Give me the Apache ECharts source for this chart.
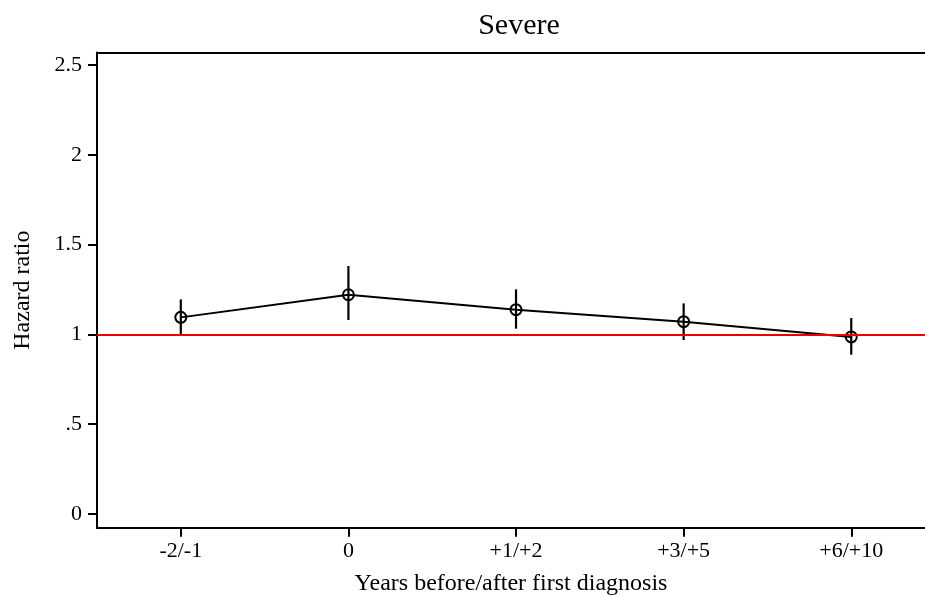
<!DOCTYPE html>
<html>
<head>
<meta charset="utf-8">
<script src="https://cdn.jsdelivr.net/npm/echarts@6/dist/echarts.min.js"></script>
<style>
  html, body { margin: 0; padding: 0; background: #fff; }
  #chart { width: 925px; height: 597px; }
</style>
</head>
<body>
<div id="chart"></div>
<script>
  // periods around first diagnosis
  const categories = ['-2/-1', '0', '+1/+2', '+3/+5', '+6/+10'];
  const hazard = [1.095, 1.221, 1.138, 1.071, 0.986];
  const ciLow = [0.998, 1.080, 1.032, 0.969, 0.887];
  const ciHigh = [1.195, 1.381, 1.251, 1.173, 1.091];
  const yTicks = [0, 0.5, 1, 1.5, 2, 2.5];
  const yTickLabels = ['0', '.5', '1', '1.5', '2', '2.5'];
  const refLine = 1;

  const font = 'Liberation Serif';
  let myChart = echarts.init(document.getElementById('chart'));

  let pointData = hazard.map((v, i) => [i, v]);
  let barData = categories.map((c, i) => [i, ciLow[i], ciHigh[i]]);

  let option = {
    animation: false,
    title: {
      text: 'Severe',
      left: 514,
      top: 6,
      textAlign: 'center',
      textStyle: { fontFamily: font, fontSize: 30, fontWeight: 'normal', color: '#000' }
    },
    grid: { left: 97, right: 0, top: 52.5, bottom: 69.3, outerBoundsMode: 'none' },
    xAxis: [
      {
        type: 'value',
        min: -0.5,
        max: 4.44,
        name: 'Years before/after first diagnosis',
        nameLocation: 'middle',
        nameGap: 44,
        nameTextStyle: { fontFamily: font, fontSize: 24, color: '#000' },
        axisLine: { show: true, onZero: false, lineStyle: { color: '#000', width: 2 } },
        axisTick: { show: true, length: 9, customValues: categories.map((c, i) => i), lineStyle: { color: '#000', width: 2 } },
        axisLabel: {
          customValues: categories.map((c, i) => i),
          formatter: v => categories[Math.round(v)],
          margin: 13,
          fontFamily: font, fontSize: 22, color: '#000'
        },
        splitLine: { show: false }
      },
      {
        type: 'value',
        position: 'top',
        min: -0.5,
        max: 4.44,
        axisLine: { show: true, onZero: false, lineStyle: { color: '#000', width: 2 } },
        axisTick: { show: false },
        axisLabel: { show: false },
        splitLine: { show: false }
      }
    ],
    yAxis: {
      type: 'value',
      min: -0.0763,
      max: 2.57,
      name: 'Hazard ratio',
      nameLocation: 'middle',
      nameGap: 62,
      nameTextStyle: { fontFamily: font, fontSize: 24, color: '#000' },
      axisLine: { show: true, onZero: false, lineStyle: { color: '#000', width: 2 } },
      axisTick: { show: true, length: 9, customValues: yTicks, lineStyle: { color: '#000', width: 2 } },
      axisLabel: {
        customValues: yTicks,
        formatter: v => yTickLabels[yTicks.indexOf(v)] !== undefined ? yTickLabels[yTicks.indexOf(v)] : '',
        margin: 15,
        fontFamily: font, fontSize: 22, color: '#000'
      },
      splitLine: { show: false }
    },
    series: [
      {
        type: 'custom',
        data: barData,
        z: 3,
        renderItem: function (params, api) {
          let top = api.coord([api.value(0), api.value(2)]);
          let bot = api.coord([api.value(0), api.value(1)]);
          return {
            type: 'line',
            shape: { x1: top[0], y1: top[1], x2: bot[0], y2: bot[1] },
            style: { stroke: '#000', lineWidth: 2.2 }
          };
        }
      },
      {
        type: 'line',
        data: pointData,
        symbol: 'circle',
        symbolSize: 11,
        z: 4,
        itemStyle: { color: 'transparent', borderColor: '#000', borderWidth: 2 },
        lineStyle: { color: '#000', width: 2 },
        markLine: {
          silent: true,
          symbol: 'none',
          label: { show: false },
          lineStyle: { color: '#ee0000', width: 2, type: 'solid' },
          data: [{ yAxis: refLine }]
        }
      }
    ]
  };
  myChart.setOption(option);
</script>
</body>
</html>
